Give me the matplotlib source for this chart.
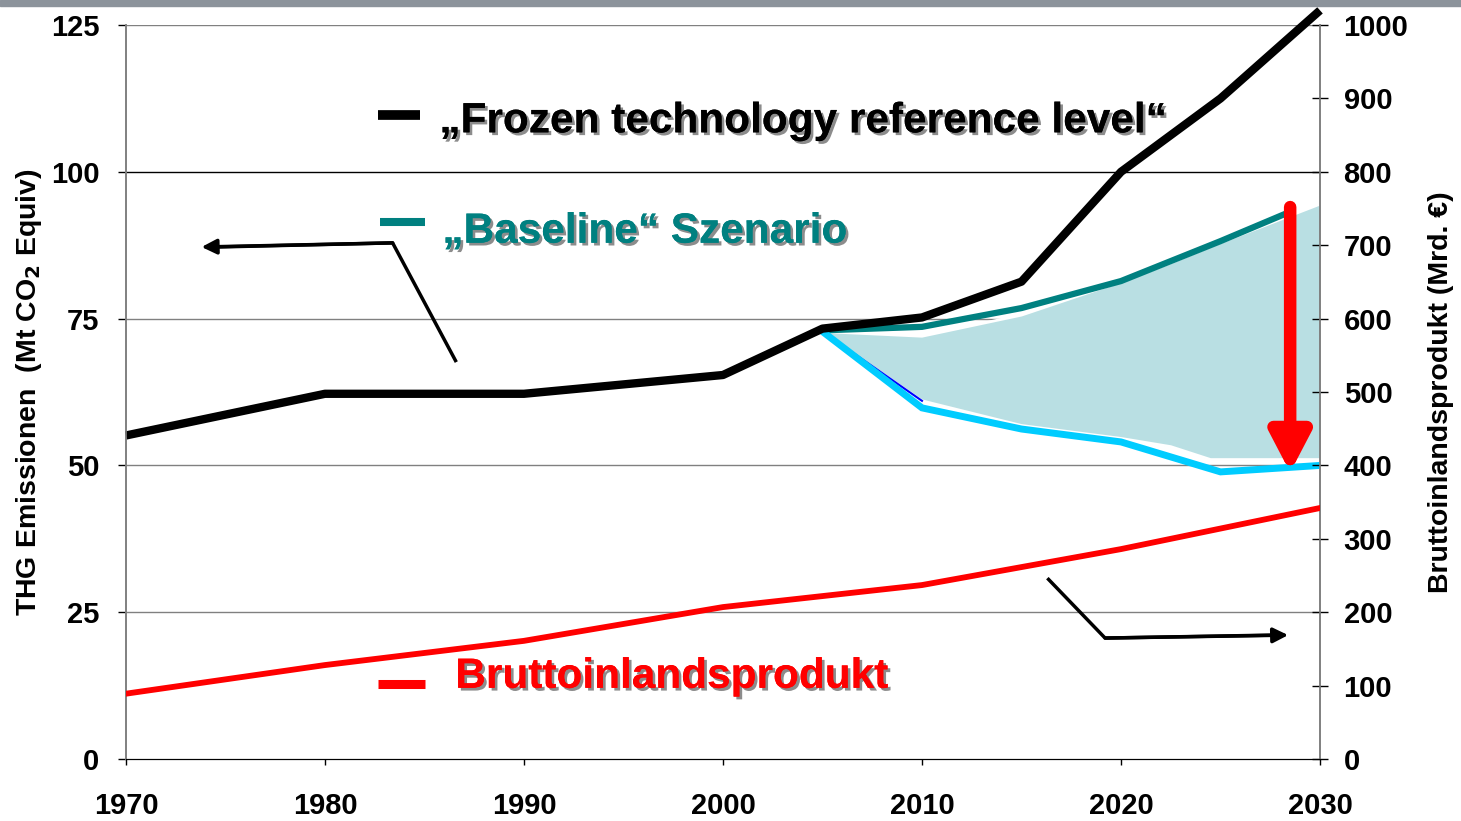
#!/usr/bin/env python3
"""THG-Emissionen vs. Bruttoinlandsprodukt, Szenarien bis 2030."""

import matplotlib

matplotlib.use("Agg")
import matplotlib.pyplot as plt
import matplotlib.patheffects as pe
from matplotlib.patches import Rectangle

# --- data ---
frozen_years = [1970, 1980, 1990, 2000, 2005, 2010, 2015, 2020, 2025, 2030]
frozen_values = [55.1, 62.2, 62.2, 65.4, 73.3, 75.2, 81.3, 100.0, 112.5, 127.5]

baseline_years = [2005, 2010, 2015, 2020, 2025, 2028.5]
baseline_values = [73.0, 73.6, 76.8, 81.4, 88.2, 93.2]

policy_years = [2005, 2010, 2015, 2020, 2025, 2030]
policy_values = [72.8, 59.8, 56.2, 54.0, 48.9, 50.0]

band_years = [2005, 2010, 2015, 2020, 2022.5, 2024.5, 2030]
band_upper = [72.8, 72.0, 75.6, 81.3, 84.5, 87.3, 94.5]
band_lower = [72.6, 61.0, 56.8, 54.6, 53.2, 51.0, 51.0]

gdp_years = [1970, 1980, 1990, 2000, 2010, 2020, 2030]
gdp_values = [89, 128, 161, 207, 237, 286, 342]

y_left_ticks = [0, 25, 50, 75, 100, 125]
y_right_ticks = [0, 100, 200, 300, 400, 500, 600, 700, 800, 900, 1000]
x_ticks = [1970, 1980, 1990, 2000, 2010, 2020, 2030]

# annotation helpers (data coordinates)
left_pointer = [(1986.6, 67.6), (1983.4, 87.9), (1973.8, 87.2)]
right_pointer = [(2016.3, 30.8), (2019.2, 20.6), (2028.4, 21.1)]
reduction_arrow = (2028.5, 94.0, 48.8)

TEAL = "#008080"
CYAN = "#00ccff"
BAND = "#b9dfe3"
RED = "#ff0000"
FONT = ["Liberation Sans", "DejaVu Sans"]

plt.rcParams["font.family"] = FONT
plt.rcParams["font.weight"] = "bold"

fig = plt.figure(figsize=(14.61, 8.21), dpi=100)
fig.patches.append(Rectangle((0, 0.993), 1, 0.007, transform=fig.transFigure,
                             color="#8c939b", zorder=0))
ax = fig.add_axes([0.0862, 0.0755, 0.8173, 0.894])
ax.set_xlim(1970, 2030)
ax.set_ylim(0, 125)

for y in y_left_ticks[1:]:
    ax.axhline(y, color="#000000" if y == 100 else "#808080", lw=1.0, zorder=1)

ax.fill_between(band_years, band_lower, band_upper, color=BAND, lw=0, zorder=2)
ax.plot(band_years, band_lower, color="white", lw=2.0, zorder=2.5)
ax.plot(band_years, band_upper, color="white", lw=2.0, zorder=2.5)

ax.plot(baseline_years, baseline_values, color=TEAL, lw=4.5, zorder=3,
        solid_capstyle="butt")
ax.plot(policy_years[:2], [policy_values[0], policy_values[1] + 1.2],
        color="#0000ff", lw=1.5, zorder=3)
ax.plot(policy_years, policy_values, color=CYAN, lw=5, zorder=3.5,
        solid_joinstyle="miter")
ax.plot(frozen_years, frozen_values, color="black", lw=6, zorder=4,
        clip_on=False, solid_capstyle="butt")

ax2 = ax.twinx()
ax2.set_ylim(0, 1000)
ax2.plot(gdp_years, gdp_values, color=RED, lw=4.2, zorder=3)

# reduction arrow
ax.annotate("", xy=(reduction_arrow[0], reduction_arrow[2]),
            xytext=(reduction_arrow[0], reduction_arrow[1]),
            arrowprops=dict(arrowstyle="-|>,head_length=2.3,head_width=1.2",
                            color=RED, lw=9, shrinkA=0, shrinkB=0),
            zorder=6)

# pointer arrows to axes
for pts in (left_pointer, right_pointer):
    xs = [p[0] for p in pts]
    ys = [p[1] for p in pts]
    ax.plot(xs[:-1] + [xs[-1] + (0.8 if xs[-1] < xs[-2] else -0.8)],
            ys[:-1] + [ys[-1]], color="black", lw=2.5, zorder=5,
            solid_capstyle="butt")
    ax.annotate("", xy=pts[-1], xytext=pts[-2],
                arrowprops=dict(arrowstyle="-|>,head_length=0.9,head_width=0.45",
                                color="black", lw=2.5, shrinkA=0, shrinkB=0),
                zorder=5)

# legend-like labels
shadow = [pe.withSimplePatchShadow(offset=(2, -2), shadow_rgbFace="#808080", alpha=0.9),
          pe.Normal()]
labels = [
    ((1982.65, 1984.8), 109.7, 1985.75, 108.6, "\u201eFrozen technology reference level\u201c", "black", 7.0),
    ((1982.75, 1985.05), 91.45, 1985.9, 89.8, "\u201eBaseline\u201c Szenario", TEAL, 5.8),
    ((1982.65, 1985.05), 12.8, 1986.55, 14.0, "Bruttoinlandsprodukt", RED, 6.5),
]
for (x0, x1), ly, tx, ty, txt, col, lw in labels:
    ax.plot([x0, x1], [ly, ly], color=col, lw=lw, zorder=5, solid_capstyle="butt")
    ax.text(tx, ty, txt, color=col, fontsize=30.5, fontweight="bold",
            va="center", ha="left", path_effects=shadow, zorder=6)

# axes styling
for a in (ax, ax2):
    a.spines["top"].set_visible(False)
    a.spines["left"].set_color("#808080")
    a.spines["right"].set_color("#808080")
    a.spines["bottom"].set_color("black")
    a.spines["left"].set_linewidth(1.2)
    a.spines["right"].set_linewidth(1.2)

ax.set_xticks(x_ticks)
ax.set_yticks(y_left_ticks)
ax2.set_yticks(y_right_ticks)
ax.tick_params(axis="x", direction="out", length=4, width=1, pad=20,
               labelsize=21, color="black")
ax.tick_params(axis="y", direction="out", length=6, width=1, pad=13,
               labelsize=21, color="black")
ax2.tick_params(axis="y", direction="inout", length=12, width=1, pad=11,
                labelsize=21, color="black")
for lab in ax.get_xticklabels() + ax.get_yticklabels() + ax2.get_yticklabels():
    lab.set_fontweight("bold")

ax.set_ylabel("THG Emissionen  (Mt CO$_\\mathbf{2}$ Equiv)", fontsize=20.5,
              fontweight="bold", labelpad=5)
ax2.set_ylabel("Bruttoinlandsprodukt (Mrd. \u20ac)", fontsize=20.5,
               fontweight="bold", labelpad=14)

fig.savefig("out.png", dpi=100)
